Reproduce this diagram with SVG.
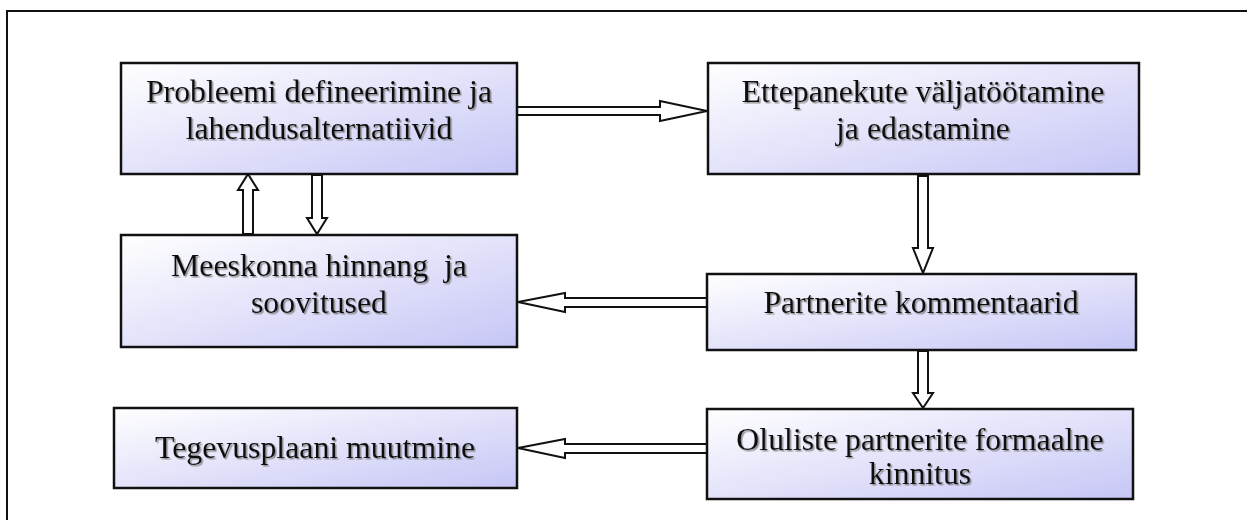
<svg xmlns="http://www.w3.org/2000/svg" width="1247" height="520" viewBox="0 0 1247 520">
<defs>
<linearGradient id="boxfill" x1="0" y1="0" x2="1" y2="1">
<stop offset="0" stop-color="#ffffff"/>
<stop offset="1" stop-color="#c6c6f6"/>
</linearGradient>
<filter id="tshadow" x="-5%" y="-20%" width="110%" height="140%">
<feDropShadow dx="1.5" dy="1.5" stdDeviation="0.7" flood-color="#777777" flood-opacity="0.8"/>
</filter>
</defs>
<style>
.box{fill:url(#boxfill);stroke:#111;stroke-width:2.5}
.lbl{font-family:"Liberation Serif","Times New Roman",serif;font-size:31.8px;fill:#111;text-anchor:middle;white-space:pre;filter:url(#tshadow)}
.arr{fill:#fff;stroke:#111;stroke-width:2;stroke-linejoin:miter}
.frame{fill:none;stroke:#111;stroke-width:2}
</style>
<rect width="1247" height="520" fill="#fff"/>
<path class="frame" d="M7,530 V11 H1260"/>
<g id="connectors">
<!-- box1 -> box2 -->
<path class="arr" d="M517,107 H660 V101 L707,111 L660,121 V115 H517 Z"/>
<!-- box3 -> box1 (up) -->
<path class="arr" d="M243,234 V190 H238 L248,174 L258,190 H253 V234 Z"/>
<!-- box1 -> box3 (down) -->
<path class="arr" d="M312,175 V218 H307 L317,234 L327,218 H322 V175 Z"/>
<!-- box2 -> box4 -->
<path class="arr" d="M918,176 V248 H913 L923,273 L933,248 H928 V176 Z"/>
<!-- box4 -> box3 -->
<path class="arr" d="M707,298 H565 V293 L518,302 L565,312 V307 H707 Z"/>
<!-- box4 -> box6 -->
<path class="arr" d="M918,351 V393 H913 L923,408 L933,393 H928 V351 Z"/>
<!-- box6 -> box5 -->
<path class="arr" d="M707,444 H565 V439 L518,448 L565,458 V453 H707 Z"/>
</g>
<g id="n1">
<rect class="box" x="121" y="63" width="396" height="111"/>
<text class="lbl" x="319" y="102">Probleemi defineerimine ja</text>
<text class="lbl" x="319" y="139">lahendusalternatiivid</text>
</g>
<g id="n2">
<rect class="box" x="708" y="63" width="431" height="111"/>
<text class="lbl" x="923" y="102">Ettepanekute väljatöötamine</text>
<text class="lbl" x="923" y="139">ja edastamine</text>
</g>
<g id="n3">
<rect class="box" x="121" y="235" width="396" height="112"/>
<text class="lbl" x="319" y="276">Meeskonna hinnang  ja</text>
<text class="lbl" x="319" y="313">soovitused</text>
</g>
<g id="n4">
<rect class="box" x="707" y="274" width="429" height="76"/>
<text class="lbl" x="921" y="313">Partnerite kommentaarid</text>
</g>
<g id="n5">
<rect class="box" x="114" y="408" width="403" height="80"/>
<text class="lbl" x="315" y="458">Tegevusplaani muutmine</text>
</g>
<g id="n6">
<rect class="box" x="707" y="409" width="426" height="90"/>
<text class="lbl" x="920" y="450">Oluliste partnerite formaalne</text>
<text class="lbl" x="920" y="484">kinnitus</text>
</g>
</svg>
